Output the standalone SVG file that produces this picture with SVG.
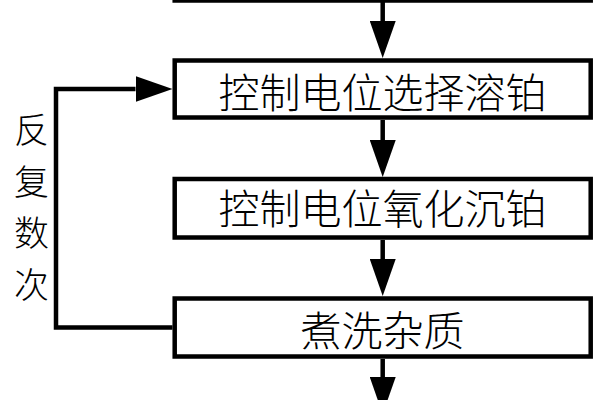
<svg xmlns="http://www.w3.org/2000/svg" width="600" height="400" viewBox="0 0 600 400">
<style>
.box{fill:#fff;stroke:#000;stroke-width:4.5}
.lbl{font-family:"Noto Sans CJK SC","Noto Sans",sans-serif;font-size:41px;font-weight:300;fill:#000;text-anchor:middle;dominant-baseline:central}
.side{font-family:"Noto Sans CJK SC","Noto Sans",sans-serif;font-size:35px;font-weight:300;fill:#000;text-anchor:middle;dominant-baseline:central}
.conn{fill:none;stroke:#000;stroke-width:4.5;marker-end:url(#ah)}
</style>
<defs>
<marker id="ah" markerUnits="userSpaceOnUse" markerWidth="37" markerHeight="26" refX="0" refY="13" orient="auto">
<path d="M0,0 L37,13 L0,26 z" fill="#000"/>
</marker>
</defs>
<rect width="600" height="400" fill="#fff"/>
<g id="prev"><rect class="box" x="174.7" y="-60" width="416" height="60.5"/></g>
<g id="n1"><rect class="box" x="174.7" y="60.5" width="416" height="57"/><text class="lbl" x="382.5" y="90">控制电位选择溶铂</text></g>
<g id="n2"><rect class="box" x="174.7" y="179" width="416" height="58.5"/><text class="lbl" x="382.5" y="206">控制电位氧化沉铂</text></g>
<g id="n3"><rect class="box" x="174.7" y="298.5" width="416" height="58"/><text class="lbl" x="382.5" y="327.5">煮洗杂质</text></g>
<g id="connectors">
<path class="conn" d="M382.7,0 V21"/>
<path class="conn" d="M382.7,120 V140"/>
<path class="conn" d="M382.7,240 V259"/>
<path class="conn" d="M382.7,359 V377"/>
<path class="conn" d="M172.5,327.5 H56 V89 H135.5"/>
</g>
<g id="loop-label">
<text class="side" x="31.5" y="127.5">反</text>
<text class="side" x="31.5" y="179.2">复</text>
<text class="side" x="31.5" y="230.8">数</text>
<text class="side" x="31.5" y="282.5">次</text>
</g>
</svg>
